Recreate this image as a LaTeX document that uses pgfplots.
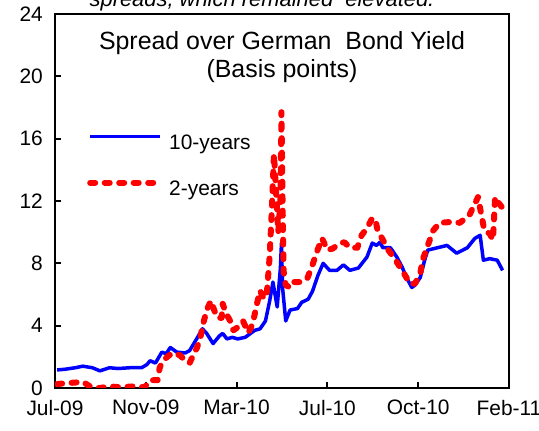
\documentclass[border=0pt]{standalone}
\usepackage{fontspec}
\setmainfont{Liberation Sans}
\usepackage{pgfplots}
\usepackage{pgfplotstable}
\pgfplotsset{compat=1.18}

\pgfplotstableread{
idx v
2 1.16
9 1.2
19 1.3
26 1.4
35 1.3
42 1.1
51 1.3
59 1.25
70 1.3
81 1.3
86 1.5
89 1.75
94 1.6
100 2.3
104 2.2
108 2.6
114 2.3
122 2.25
126 2.4
133 3.2
138 3.8
142 3.5
148 2.85
154 3.35
157 3.5
161 3.15
166 3.25
171 3.15
178 3.25
183 3.5
187 3.7
192 3.8
197 4.3
201 5.6
204 6.8
206 6.0
208 5.2
211 7.7
212 9.3
213 6.45
216 4.3
220 5.0
227 5.1
231 5.5
237 5.7
241 6.2
246 7.2
251 8.0
257 7.55
264 7.55
270 7.9
276 7.55
284 7.7
292 8.4
297 9.3
301 9.15
304 9.35
307 9.0
314 9.0
320 8.4
325 7.75
329 7.1
334 6.45
337 6.6
342 7.1
346 8.2
349 8.85
358 9.0
367 9.15
376 8.65
386 9.0
393 9.6
398 9.8
401 8.2
407 8.3
414 8.2
419 7.55
}\tenyear

\pgfplotstableread{
idx v
2 0.25
9 0.3
19 0.35
26 0.4
35 0.0
42 0.0
51 0.1
61 0.05
73 0.1
84 0.05
89 0.5
96 0.5
98 1.3
101 1.75
106 2.05
110 2.25
117 2.1
122 1.75
126 1.6
129 2.05
133 2.6
136 3.2
139 4.2
142 5.0
146 5.6
149 5.0
152 4.5
156 4.5
157 5.4
160 4.8
164 4.3
167 3.7
171 3.9
176 4.3
181 3.55
185 4.1
189 5.4
192 6.25
195 5.8
198 5.8
201 8.5
203 11.5
205 15.0
207 12.5
209 10.0
211 12.0
212 17.7
213 12.0
214 7.5
216 6.6
220 6.45
223 6.8
229 6.8
236 7.0
241 7.9
246 8.9
250 9.6
255 8.85
260 8.95
267 9.3
271 9.35
276 9.0
283 9.0
287 9.8
292 10.25
297 10.9
300 10.8
302 10.1
307 9.5
312 8.85
318 8.3
323 7.75
328 7.2
332 6.7
337 6.7
342 7.35
344 8.2
349 9.15
354 10.1
360 10.6
370 10.65
379 10.6
388 11.1
396 12.25
400 10.8
402 10.1
407 9.9
410 9.5
412 12.25
415 11.9
419 11.55
}\twoyear

\begin{document}
\begin{tikzpicture}
\begin{axis}[
  at={(55bp,43bp)}, anchor=south west,
  scale only axis, width=454bp, height=374bp,
  xmin=0, xmax=425, ymin=0, ymax=24,
  xtick={0,85,170,255,340,425},
  xticklabels={Jul-09,Nov-09,Mar-10,Jul-10,Oct-10,Feb-11},
  ytick={0,4,8,12,16,20,24},
  xtick pos=bottom, ytick pos=left,
  tick align=inside,
  major tick length=6bp,
  axis line style={line width=2.5bp},
  every tick/.style={black, line width=2bp},
  /pgf/number format/assume math mode=true,
  tick label style={font=\fontsize{21}{25}\selectfont, inner sep=0pt},
  xticklabel style={yshift=-12bp},
  yticklabel style={xshift=-12bp},
  title={Spread over German\ \ Bond Yield\\(Basis points)},
  title style={at={(0.5,1)}, anchor=north, yshift=-23bp, align=center,
    font=\fontsize{25}{28}\selectfont, inner sep=0pt},
  legend style={draw=none, fill=none, at={(axis description cs:0.0705,0.678)},
    anchor=north west, inner sep=0pt, row sep=26bp, column sep=6bp,
    font=\fontsize{21}{25}\selectfont,
    nodes={inner sep=0pt, text height=15bp, text depth=4bp}},
  legend cell align=left,
  legend image code/.code={\draw[#1] (0bp,7.5bp) -- (70bp,7.5bp);},
]
\addplot[color={rgb,255:red,0;green,0;blue,255}, line width=3.5bp, line join=round] table[x=idx,y=v] {\tenyear};
\addlegendentry{10-years}
\addplot[color={rgb,255:red,255;green,0;blue,0}, line width=6bp, line cap=round, line join=round, dash pattern=on 5bp off 9.5bp] table[x=idx,y=v] {\twoyear};
\addlegendentry{2-years}
\end{axis}
\node[anchor=base, font=\fontsize{22}{26}\selectfont\itshape] at (262bp,424bp) {spreads, which remained\ \ elevated.};
\pgfresetboundingbox
\useasboundingbox (0,0) rectangle (539bp,431bp);
\end{tikzpicture}
\end{document}
